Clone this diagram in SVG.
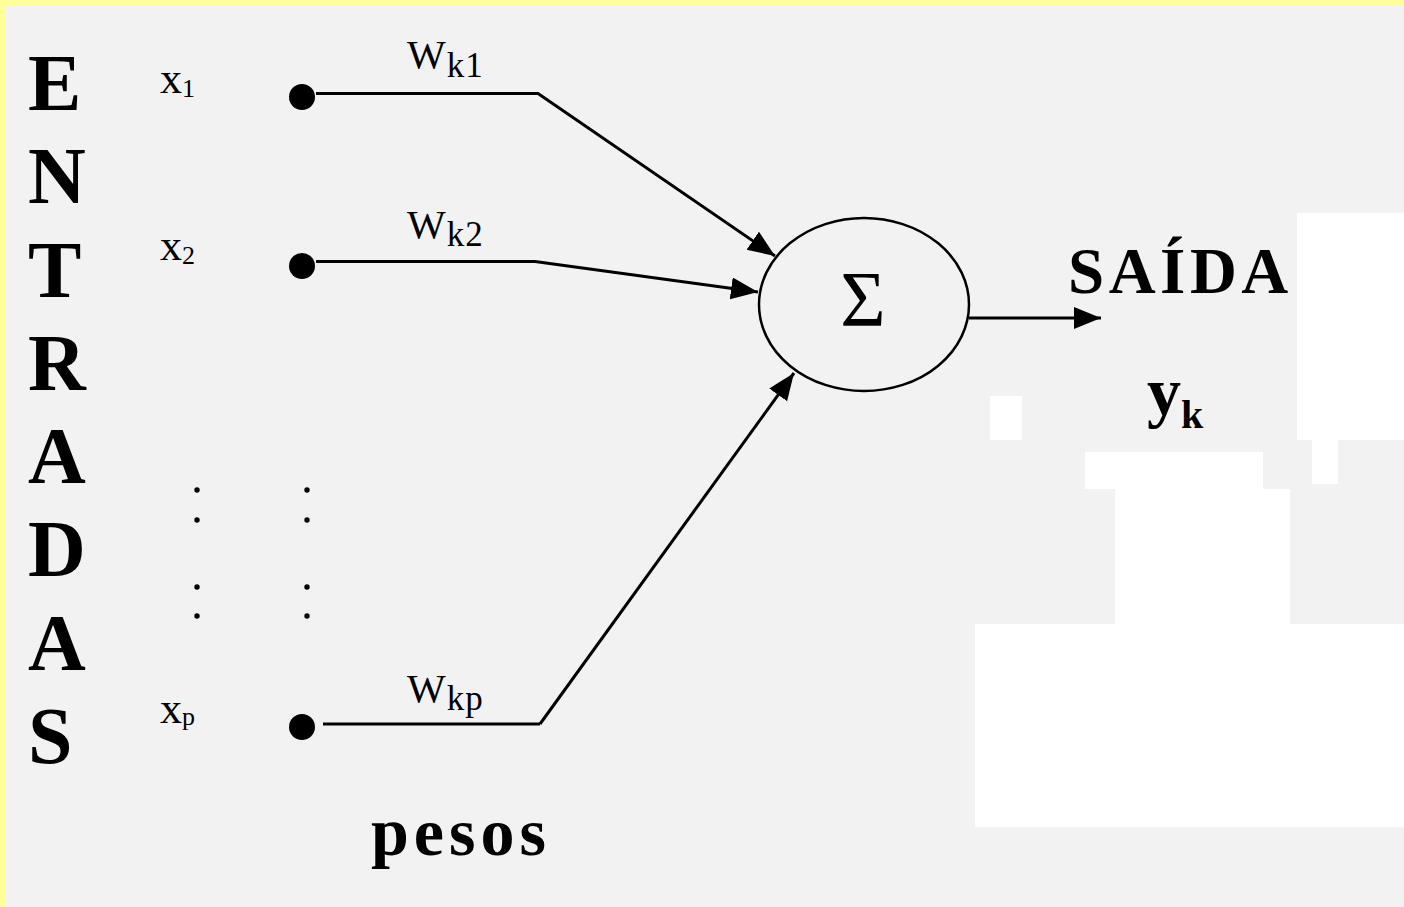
<svg xmlns="http://www.w3.org/2000/svg" width="1404" height="907" viewBox="0 0 1404 907">
  <style>
    .big { font-family: "Liberation Serif", "Times New Roman", serif; font-weight: bold; font-size: 80px; fill: #000; }
    .xl { font-family: "Liberation Serif", "Times New Roman", serif; font-size: 44px; fill: #000; }
    .xs { font-size: 26px; }
    .wl { font-family: "Liberation Serif", "Times New Roman", serif; font-size: 41px; fill: #000; letter-spacing: 1px; }
    .ws { font-size: 35px; }
    .bold { font-family: "Liberation Serif", "Times New Roman", serif; font-weight: bold; fill: #000; }
    .wire { fill: none; stroke: #000; stroke-width: 3; }
  </style>
  <defs>
    <marker id="arr" markerUnits="userSpaceOnUse" markerWidth="30" markerHeight="24" refX="27" refY="11" orient="auto">
      <path d="M0,0 L27,11 L0,22 Z" fill="#000"/>
    </marker>
  </defs>

  <!-- background -->
  <rect x="0" y="0" width="1404" height="907" fill="#f3f2f3"/>
  <g id="white-patches" fill="#ffffff">
    <rect x="1297" y="213" width="107" height="227"/>
    <rect x="990" y="396" width="32" height="44"/>
    <rect x="1085" y="452" width="178" height="37"/>
    <rect x="1312" y="440" width="26" height="44"/>
    <rect x="1115" y="489" width="175" height="135"/>
    <rect x="975" y="624" width="429" height="203"/>
  </g>
  <rect x="0" y="0" width="1404" height="6" fill="#ffff99"/>
  <rect x="0" y="0" width="6" height="907" fill="#ffff99"/>

  <!-- ENTRADAS label -->
  <g id="entradas">
    <text class="big" x="28" y="110">E</text>
    <text class="big" x="28" y="203">N</text>
    <text class="big" x="28" y="297">T</text>
    <text class="big" x="28" y="390">R</text>
    <text class="big" x="28" y="483">A</text>
    <text class="big" x="28" y="576">D</text>
    <text class="big" x="28" y="670">A</text>
    <text class="big" x="28" y="763">S</text>
  </g>

  <!-- input labels -->
  <g id="input-x1"><text class="xl" x="160" y="93">x<tspan class="xs" dy="4">1</tspan></text></g>
  <g id="input-x2"><text class="xl" x="160" y="260">x<tspan class="xs" dy="4">2</tspan></text></g>
  <g id="input-xp"><text class="xl" x="160" y="723">x<tspan class="xs" dy="2">p</tspan></text></g>

  <!-- input dots -->
  <g id="dot-1"><circle cx="302" cy="97" r="13" fill="#000"/></g>
  <g id="dot-2"><circle cx="302" cy="266" r="13" fill="#000"/></g>
  <g id="dot-p"><circle cx="302" cy="727" r="13" fill="#000"/></g>

  <!-- ellipsis dots -->
  <g id="ellipsis" fill="#000">
    <circle cx="197" cy="490" r="2.7"/>
    <circle cx="197" cy="520" r="2.7"/>
    <circle cx="197" cy="587" r="2.7"/>
    <circle cx="197" cy="616" r="2.7"/>
    <circle cx="307" cy="490" r="2.7"/>
    <circle cx="307" cy="520" r="2.7"/>
    <circle cx="307" cy="587" r="2.7"/>
    <circle cx="307" cy="616" r="2.7"/>
  </g>

  <!-- weight labels -->
  <g id="weight-1"><text class="wl" x="407" y="68">W<tspan class="ws" dy="9">k1</tspan></text></g>
  <g id="weight-2"><text class="wl" x="407" y="238">W<tspan class="ws" dy="8">k2</tspan></text></g>
  <g id="weight-p"><text class="wl" x="407" y="702">W<tspan class="ws" dy="8">kp</tspan></text></g>

  <!-- connectors -->
  <g id="connectors">
    <path class="wire" d="M316,93.5 H538 L775,256" marker-end="url(#arr)"/>
    <path class="wire" d="M316,261.5 H535 L758,292" marker-end="url(#arr)"/>
    <path class="wire" d="M323,724 H540" stroke-width="5"/>
    <path class="wire" d="M540,724 L794,373" stroke-width="2.5" marker-end="url(#arr)"/>
    <path class="wire" d="M969,318 H1101" marker-end="url(#arr)"/>
  </g>

  <!-- summation node -->
  <g id="sum-node">
    <ellipse cx="864" cy="304.5" rx="105" ry="86.5" fill="none" stroke="#000" stroke-width="2.5"/>
    <text x="863" y="325" text-anchor="middle" font-family="Liberation Serif, Times New Roman, serif" font-size="78">Σ</text>
  </g>

  <!-- output labels -->
  <g id="saida"><text class="bold" x="1068" y="293" font-size="65" letter-spacing="4.5">SAÍDA</text></g>
  <g id="yk"><text class="bold" x="1147" y="415" font-size="68">y<tspan font-size="40" dy="13">k</tspan></text></g>

  <!-- pesos label -->
  <g id="pesos"><text class="bold" x="371" y="855" font-size="68" letter-spacing="5">pesos</text></g>
</svg>
